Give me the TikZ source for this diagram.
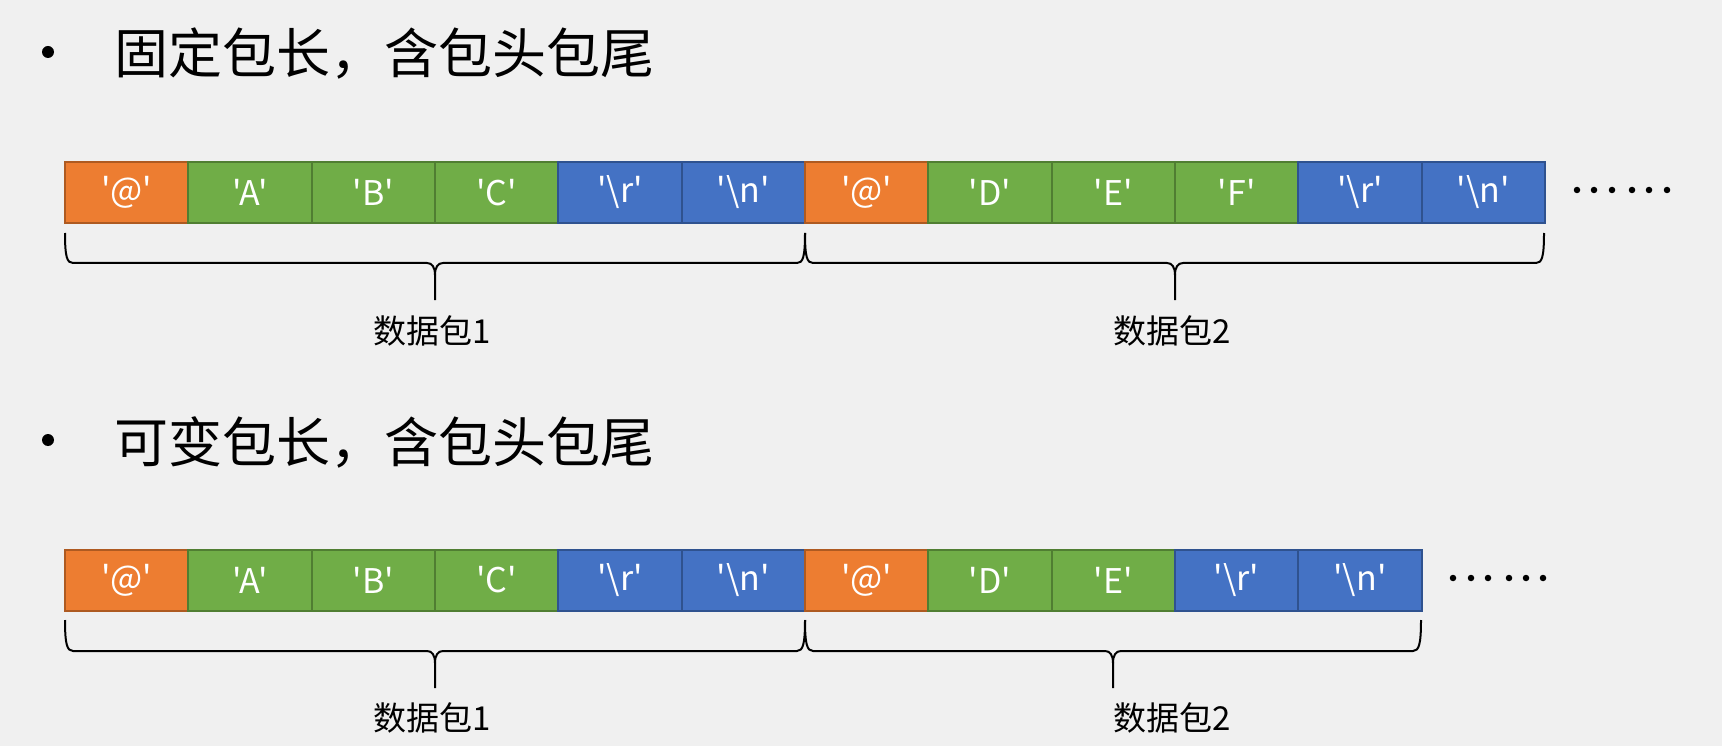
\documentclass[tikz,border=0pt]{standalone}
\usepackage{fontspec}
\setmainfont{Noto Sans CJK SC}
\newfontfamily\cellfont{Noto Sans CJK SC}[Ligatures=TeXOff]
\definecolor{bg}{HTML}{F0F0F0}
\definecolor{ofill}{HTML}{ED7D31}\definecolor{oline}{HTML}{AE5A21}
\definecolor{gfill}{HTML}{70AD47}\definecolor{gline}{HTML}{507E32}
\definecolor{bfill}{HTML}{4472C4}\definecolor{bline}{HTML}{2F528F}
% left x, right x, mid x, y top, y horizontal, y tip
\newcommand\mybrace[6]{%
 \draw[braceline] (#1,#4) .. controls (#1,#4+24) and (#1+2,#5) .. (#1+8,#5) -- (#3-8,#5) .. controls (#3-3,#5) and (#3,#5+4) .. (#3,#5+12) -- (#3,#6);
 \draw[braceline] (#2,#4) .. controls (#2,#4+24) and (#2-2,#5) .. (#2-8,#5) -- (#3+8,#5) .. controls (#3+3,#5) and (#3,#5+4) .. (#3,#5+12);
}
\begin{document}
\begin{tikzpicture}[x=1pt,y=-1pt,
  cell/.style={minimum width=123.33pt, minimum height=61pt, inner sep=0pt, outer sep=0pt,
    line width=2pt, anchor=west, font=\cellfont\fontsize{34}{40}\selectfont, text=white},
  hd/.style={cell, fill=ofill, draw=oline},
  dt/.style={cell, fill=gfill, draw=gline},
  tl/.style={cell, fill=bfill, draw=bline},
  dotn/.style={circle, fill=black, minimum size=6.5pt, inner sep=0pt, outer sep=0pt},
  bul/.style={circle, fill=black, minimum size=12pt, inner sep=0pt},
  title/.style={anchor=west, inner sep=0pt, font=\fontsize{54}{60}\selectfont},
  lbl/.style={inner sep=0pt, font=\fontsize{33}{38}\selectfont},
  braceline/.style={line width=2pt, black, line join=round}]
\useasboundingbox (0,0) rectangle (1722,746);
\fill[bg] (0,0) rectangle (1722,746);

% titles
\node[bul] (bu1) at (48,52) {};
\node[title] (t1) at (114,54) {固定包长，含包头包尾};
\node[bul] (bu2) at (48,440) {};
\node[title] (t2) at (114,442) {可变包长，含包头包尾};

% row 1
\node[hd] (a1) at (65,192.5) {'@'};
\node[dt] (a2) at (a1.east) {'A'};
\node[dt] (a3) at (a2.east) {'B'};
\node[dt] (a4) at (a3.east) {'C'};
\node[tl] (a5) at (a4.east) {'\textbackslash r'};
\node[tl] (a6) at (a5.east) {'\textbackslash n'};
\node[hd] (a7) at (a6.east) {'@'};
\node[dt] (a8) at (a7.east) {'D'};
\node[dt] (a9) at (a8.east) {'E'};
\node[dt] (a10) at (a9.east) {'F'};
\node[tl] (a11) at (a10.east) {'\textbackslash r'};
\node[tl] (a12) at (a11.east) {'\textbackslash n'};

\foreach \x [count=\i] in {1577,1594,1612,1632,1649,1667}
  \node[dotn] (da\i) at (\x,190) {};

\mybrace{65}{805}{435}{233}{263}{300}
\mybrace{805}{1544}{1175}{233}{263}{300}
\node[lbl] (la1) at (432,331) {数据包1};
\node[lbl] (la2) at (1172,331) {数据包2};

% row 2
\node[hd] (b1) at (65,580) {'@'};
\node[dt] (b2) at (b1.east) {'A'};
\node[dt] (b3) at (b2.east) {'B'};
\node[dt] (b4) at (b3.east) {'C'};
\node[tl] (b5) at (b4.east) {'\textbackslash r'};
\node[tl] (b6) at (b5.east) {'\textbackslash n'};
\node[hd] (b7) at (b6.east) {'@'};
\node[dt] (b8) at (b7.east) {'D'};
\node[dt] (b9) at (b8.east) {'E'};
\node[tl] (b10) at (b9.east) {'\textbackslash r'};
\node[tl] (b11) at (b10.east) {'\textbackslash n'};

\foreach \x [count=\i] in {1453,1471,1488,1509,1526,1543}
  \node[dotn] (db\i) at (\x,578) {};

\mybrace{65}{805}{435}{620}{651}{688}
\mybrace{805}{1421}{1113}{620}{651}{688}
\node[lbl] (lb1) at (432,718) {数据包1};
\node[lbl] (lb2) at (1172,718) {数据包2};
\end{tikzpicture}
\end{document}
